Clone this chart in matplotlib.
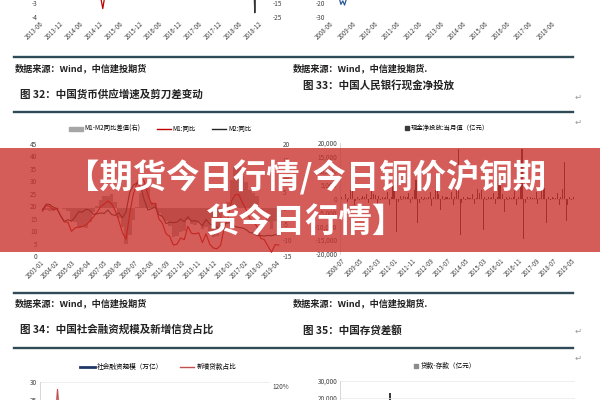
import numpy as np
import matplotlib.pyplot as plt
from matplotlib.patches import Rectangle, Patch
from matplotlib.lines import Line2D
from matplotlib.ticker import FuncFormatter

plt.rcParams['font.family'] = ['Noto Sans CJK SC', 'DejaVu Sans']
plt.rcParams['axes.unicode_minus'] = False

W, H = 600, 400

# ---------------- data ----------------
# top strip (end of previous page charts)
tl_labels = ['2013-06', '2013-12', '2014-06', '2014-12', '2015-06', '2015-12',
             '2016-06', '2016-12', '2017-06', '2017-12', '2018-06', '2018-12']
tl_red_month = [17.5, 19, 20.5]
tl_red_val = [-1.5, -3.4, -1.2]
tl_dark_month = [64.6, 65, 65.4]
tl_dark_val = [-1.0, -3.7, -1.0]

tr_labels = ['2008-06', '2009-06', '2010-06', '2011-06', '2012-06', '2013-06',
             '2014-06', '2015-06', '2016-06', '2017-06', '2018-06']
tr_month = [5, 6, 7, 8, 9, 10]
tr_val = [-16, -21, -18.5, -21.5, -17, -15]

# 图32: M1 / M2 yoy, quarterly 2003-03 .. 2019-06
m2_yoy = [18.5, 20.8, 20.7, 19.6, 19.1, 16.2, 13.9, 14.6, 14.0, 15.7, 17.9, 17.6,
          18.8, 18.4, 16.8, 16.9, 17.3, 17.1, 18.5, 16.7, 16.3, 17.4, 15.3, 17.8,
          25.5, 28.5, 29.3, 27.7, 22.5, 18.5, 19.0, 19.7, 16.6, 15.9, 13.0, 13.6,
          13.4, 13.6, 14.8, 13.8, 15.7, 14.0, 14.2, 13.6, 12.1, 14.7, 12.9, 12.2,
          11.6, 10.2, 13.1, 13.3, 13.4, 11.8, 11.5, 11.3, 10.6, 9.4, 9.2, 8.2,
          8.2, 8.0, 8.3, 8.1, 8.6, 8.5]
m1_yoy = [18.0, 20.2, 19.9, 18.7, 18.9, 16.2, 13.7, 13.6, 9.9, 11.3, 11.6, 11.8,
          12.5, 13.9, 15.7, 17.5, 19.8, 20.9, 22.1, 21.0, 18.3, 14.2, 9.4, 6.7,
          17.0, 24.8, 29.5, 32.4, 29.9, 24.6, 20.9, 21.2, 15.0, 13.1, 8.9, 7.9,
          4.4, 4.7, 7.3, 6.5, 11.9, 9.1, 8.9, 9.3, 5.4, 8.9, 4.8, 3.2,
          2.9, 4.3, 11.4, 15.2, 22.1, 24.6, 24.7, 21.4, 18.8, 15.0, 14.0, 11.8,
          7.1, 6.6, 4.0, 1.5, 4.6, 4.4]
m_labels = ['2003-01', '2004-02', '2005-03', '2006-04', '2007-05', '2008-06',
            '2009-07', '2010-08', '2011-09', '2012-10', '2013-11', '2014-12',
            '2016-01', '2017-02', '2018-03', '2019-04']

# 图33: cash net injection, monthly 2008-07 .. 2019-06 (亿元)
cash = [600, -300, 1500, -1200, 200, 3200,
        3800, -2300, -800, 500, -600, 300, 900, 400, 1800, -1600, 100, 2600,
        1500, 1300, -4200, 900, -700, 700, 300, 600, 2400, -2200, 500, 4900,
        4000, -12000, -1200, 900, -600, 800, 600, 400, 1900, -1700, 400, 3100,
        6600, -8800, -1500, 700, -500, 700, 300, 600, 2500, -2600, 500, 3000,
        3200, 1500, -4000, 800, -700, 600, 400, 300, 2300, -2400, 400, 3800,
        17800, -13000, -1800, 600, -400, 500, 300, 200, 1800, -1900, 300, 3300,
        2000, 3000, -11300, 500, -600, 400, 300, 400, 2100, -2000, 400, 4800,
        6800, 1700, -5000, 600, -400, 500, 300, 400, 2600, -2300, 400, 4100,
        17800, -14500, -1700, 700, -300, 400, 300, 300, 2400, -2100, 300, 3500,
        4500, 3900, -8800, 600, -500, 400, 200, 300, 2000, -2300, 400, 3400,
        13000, -8100, -2300, 500, -400, 500]
cash_labels = ['2008-07', '2009-05', '2010-03', '2011-01', '2011-11', '2012-09',
               '2013-07', '2014-05', '2015-03', '2016-01', '2016-11', '2017-09',
               '2018-07', '2019-05']

# 图34 (only the top is visible)
tsf_scale = [1.2, 2.1, 1.5, 1.8, 1.4, 2.0, 1.6, 1.9, 2.2, 1.7]
loan_share = [0.80, 0.65, 1.16, 0.70, 0.85, 0.60, 0.75, 0.55, 0.70, 0.65]

# 图35 (only the top is visible)
gap_val = [12000, 15000, 23000, 14000, 9000, 11000, 8000, 13000, 10000, 7000]

# ---------------- helpers ----------------
fig = plt.figure(figsize=(6, 4), dpi=100)
fig.patch.set_facecolor('white')


def px_axes(x0, y0, x1, y1):
    return fig.add_axes([x0 / W, 1 - y1 / H, (x1 - x0) / W, (y1 - y0) / H])


def px_text(x, y, s, **kw):
    kw.setdefault('va', 'center')
    return fig.text(x / W, 1 - y / H, s, **kw)


def px_hline(y, x0, x1, color='#2f4b58', lw=1.7):
    fig.add_artist(Line2D([x0 / W, x1 / W], [1 - y / H, 1 - y / H],
                          color=color, lw=lw))


def style(ax, left_spine=False):
    for s in ax.spines.values():
        s.set_visible(False)
    if left_spine:
        ax.spines['left'].set_visible(True)
        ax.spines['left'].set_color('#d0d0d0')
        ax.spines['left'].set_linewidth(0.6)
    ax.tick_params(length=0, labelsize=4.6, colors='#404040', pad=2)
    ax.set_facecolor('none')


def rot_labels(ax, pos, labels):
    ax.set_xticks(pos)
    ax.set_xticklabels(labels, rotation=45, ha='right', rotation_mode='anchor',
                       fontsize=4.4, color='#404040')


# ---------------- top strip ----------------
ax = px_axes(40, -126, 270, 17)
style(ax)
ax.plot(tl_red_month, tl_red_val, color='#c00000', lw=0.9)
ax.plot(tl_dark_month, tl_dark_val, color='#333333', lw=0.9)
ax.set_xlim(0, 69.6)
ax.set_ylim(-4, 6.2)
ax.set_yticks([-4, -3])
rot_labels(ax, np.arange(0, 67, 6), tl_labels)
axr = ax.twinx()
style(axr)
axr.set_ylim(-25, 77)
axr.set_yticks([-25, -15])

ax = px_axes(328, -126, 575, 17)
style(ax)
ax.plot(tr_month, tr_val, color='#2e5c9a', lw=0.9)
ax.set_xlim(-1, 133)
ax.set_ylim(-30, 72)
ax.set_yticks([-30, -20])
rot_labels(ax, np.arange(0, 121, 12), tr_labels)

px_hline(57, 14, 573)
px_text(15, 68, '数据来源：Wind，中信建投期货', fontsize=6.6, fontweight='bold',
        style='italic', color='#222222')
px_text(293, 68, '数据来源：Wind，中信建投期货.', fontsize=6.6, fontweight='bold',
        style='italic', color='#222222')
px_text(20, 94, '图 32：中国货币供应增速及剪刀差变动', fontsize=7.6,
        fontweight='bold', color='#222222')
px_text(303, 85, '图 33：中国人民银行现金净投放', fontsize=7.6,
        fontweight='bold', color='#222222')
px_text(578, 97, '↵', fontsize=6, color='#999999', ha='center')
px_hline(112, 14, 573)
px_text(578, 122, '↵', fontsize=6, color='#999999', ha='center')

# ---------------- 图32 ----------------
ax = px_axes(40, 144, 280, 256)
style(ax)
mx = np.arange(len(m1_yoy)) * 3 + 2
diff = np.array(m1_yoy) - np.array(m2_yoy)
axr = ax.twinx()
style(axr)
axr.fill_between(mx, 0, diff, color='#a6a6a6', lw=0, step='mid')
axr.set_ylim(-15, 20)
axr.set_yticks(np.arange(-15, 21, 5))
ax.set_zorder(axr.get_zorder() + 1)
ax.plot(mx, m1_yoy, color='#c00000', lw=0.8)
ax.plot(mx, m2_yoy, color='#262626', lw=0.8)
ax.set_xlim(0, 198)
ax.set_ylim(0, 45)
ax.set_yticks(np.arange(0, 46, 5))
rot_labels(ax, np.arange(0, 196, 13), m_labels)
fig.legend(handles=[Patch(color='#a6a6a6', label='M1-M2同比差值(右)'),
                    Line2D([], [], color='#c00000', lw=1, label='M1:同比'),
                    Line2D([], [], color='#262626', lw=1, label='M2:同比')],
           loc='center', bbox_to_anchor=(160 / W, 1 - 129 / H), ncol=3,
           frameon=False, fontsize=4.6, handlelength=2.2, handleheight=0.5,
           columnspacing=2.5, handletextpad=0.3)

# ---------------- 图33 ----------------
ax = px_axes(340, 143, 575, 254)
style(ax, left_spine=True)
ax.bar(np.arange(len(cash)), cash, width=0.6, color='#3a2a2a')
ax.axhline(0, color='#d0d0d0', lw=0.5, zorder=0)
ax.set_xlim(-1, 132)
ax.set_ylim(-20000, 20000)
ax.set_yticks(np.arange(-20000, 20001, 5000))
ax.yaxis.set_major_formatter(FuncFormatter(lambda v, p: f'{v:,.0f}'))
rot_labels(ax, np.arange(0, 131, 10), cash_labels)
fig.legend(handles=[Patch(color='#3a3a3a', label='现金净投放:当月值（亿元）')],
           loc='center', bbox_to_anchor=(447 / W, 1 - 128 / H), frameon=False,
           fontsize=4.6, handlelength=0.6, handleheight=0.6, handletextpad=0.3)

# ---------------- bottom section ----------------
px_hline(293, 14, 573)
px_text(15, 303, '数据来源：Wind，中信建投期货', fontsize=6.6, fontweight='bold',
        style='italic', color='#222222')
px_text(293, 303, '数据来源：Wind，中信建投期货.', fontsize=6.6, fontweight='bold',
        style='italic', color='#222222')
px_text(20, 329, '图 34：中国社会融资规模及新增信贷占比', fontsize=7.6,
        fontweight='bold', color='#222222')
px_text(303, 330, '图 35：中国存贷差额', fontsize=7.6, fontweight='bold',
        color='#222222')
px_text(578, 331, '↵', fontsize=6, color='#999999', ha='center')
px_hline(348, 14, 573)
px_text(578, 358, '↵', fontsize=6, color='#999999', ha='center')

ax = px_axes(40, 382, 270, 490)
style(ax, left_spine=True)
bx = np.arange(len(tsf_scale)) * 1.0
ax.plot(bx, tsf_scale, color='#1f3864', lw=1)
ax.set_xlim(-3.6, 70)
ax.set_ylim(0, 30)
ax.set_yticks([25, 30])
ax.yaxis.grid(True, color='#e8e8e8', lw=0.5)
ax.set_xticks([])
axr = ax.twinx()
style(axr)
axr.plot(bx, loan_share, color='#c0504d', lw=0.9)
axr.set_ylim(0, 1.246)
axr.set_yticks([1.2])
axr.yaxis.set_major_formatter(FuncFormatter(lambda v, p: f'{v:.0%}'))
fig.legend(handles=[Line2D([], [], color='#1f3864', lw=2, label='社会融资规模（万亿）'),
                    Line2D([], [], color='#c0504d', lw=1, label='新增贷款占比')],
           loc='center', bbox_to_anchor=(158 / W, 1 - 367 / H), ncol=2,
           frameon=False, fontsize=4.8, handlelength=2.2, columnspacing=2.5,
           handletextpad=0.3)

ax = px_axes(340, 381, 575, 500)
style(ax, left_spine=True)
ax.bar(np.arange(len(gap_val)) * 8 + 12, gap_val, width=0.8, color='#3a3a3a')
ax.set_xlim(0, 132)
ax.set_ylim(-40000, 30000)
ax.set_yticks([20000, 30000])
ax.yaxis.set_major_formatter(FuncFormatter(lambda v, p: f'{v:,.0f}'))
ax.yaxis.grid(True, color='#e8e8e8', lw=0.5)
ax.set_xticks([])
fig.legend(handles=[Patch(color='#8c8c8c', label='贷款-存款（亿元）')],
           loc='center', bbox_to_anchor=(445 / W, 1 - 366 / H), frameon=False,
           fontsize=4.8, handlelength=0.6, handleheight=0.6, handletextpad=0.3)

# ---------------- banner ----------------
fig.add_artist(Rectangle((0, 1 - 252 / H), 1, 104 / H, transform=fig.transFigure,
                         facecolor='#c8302b', alpha=0.78, lw=0, zorder=10))
px_text(306, 178, '【期货今日行情/今日铜价沪铜期', color='white', fontsize=24,
        fontweight='bold', ha='center', zorder=11)
px_text(306, 222, '货今日行情】', color='white', fontsize=24,
        fontweight='bold', ha='center', zorder=11)

fig.savefig('out.png', dpi=100)
